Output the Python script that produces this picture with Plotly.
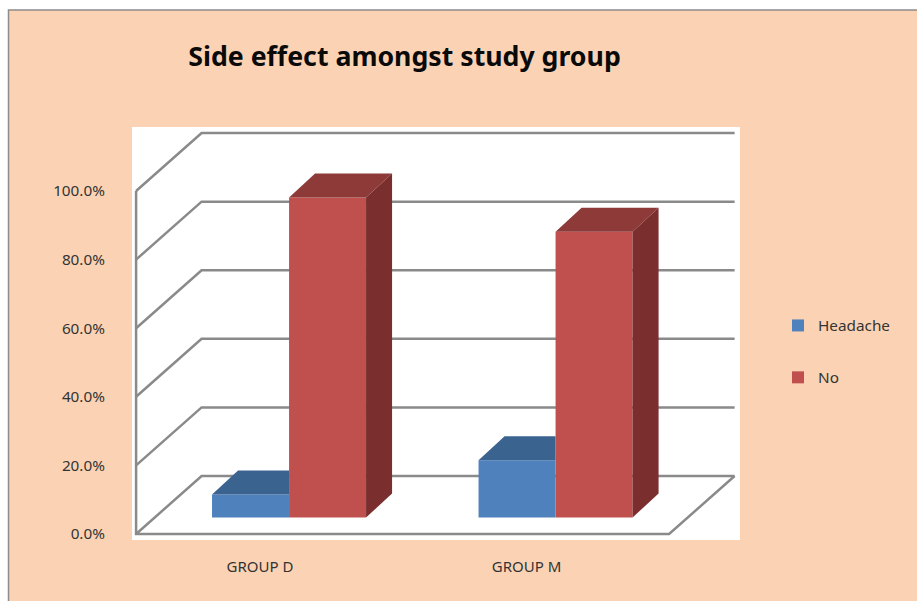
import plotly.graph_objects as go

# Chart data (percent of each study group)
groups = ["GROUP D", "GROUP M"]
headache = [6.7, 16.7]
no_effect = [93.3, 83.3]
percent_ticks = [0, 20, 40, 60, 80, 100]
percent_labels = ["0.0%", "20.0%", "40.0%", "60.0%", "80.0%", "100.0%"]

W, H = 917, 601
PEACH = "#FBD3B4"
GRID = "#8A8A8A"
FONT = "Noto Sans"

# Axis extents: one x unit is a category, one y unit is a percentage point
X_RANGE = [-0.4803, 1.801]
Y_RANGE = [-1.75, 118.66]

# Pseudo-3D geometry in axis units
FLOOR_L, FLOOR_R = -0.465, 1.535
WALL_DX, WALL_DY = 0.2458, 16.9
BASE_Y = 4.8
BAR_W = 0.2889
OFF_HEAD, OFF_NO = -0.18, 0.109
DEPTH_DX, DEPTH_DY = 0.0976, 7.0

xs = list(range(len(groups)))
fig = go.Figure()

# Front faces of the columns
fig.add_bar(x=xs, y=headache, base=BASE_Y, width=BAR_W, offset=OFF_HEAD,
            name="Headache", marker=dict(color="#4F81BD", line_width=0),
            legendgroup="a")
fig.add_bar(x=xs, y=no_effect, base=BASE_Y, width=BAR_W, offset=OFF_NO,
            name="No", marker=dict(color="#C0504D", line_width=0),
            legendgroup="b")


def face(px, py, color):
    fig.add_scatter(x=px, y=py, fill="toself", fillcolor=color, mode="none",
                    showlegend=False, hoverinfo="skip")


# Top and side faces derived from the same values
for i, (h, n) in enumerate(zip(headache, no_effect)):
    x0 = i + OFF_HEAD
    x1 = x0 + BAR_W
    top = BASE_Y + h
    # The red column hides the right end of the blue top face
    face([x0, x1, x1, x0 + DEPTH_DX, x0],
         [top, top, top + DEPTH_DY, top + DEPTH_DY, top], "#3B6390")

    x0 = i + OFF_NO
    x1 = x0 + BAR_W
    top = BASE_Y + n
    face([x0, x1, x1 + DEPTH_DX, x0 + DEPTH_DX, x0],
         [top, top, top + DEPTH_DY, top + DEPTH_DY, top], "#8E3A38")
    face([x1, x1 + DEPTH_DX, x1 + DEPTH_DX, x1, x1],
         [BASE_Y, BASE_Y + DEPTH_DY, top + DEPTH_DY, top, BASE_Y], "#7A2E2D")

# Wall and floor lines sit underneath the columns
wall_x = FLOOR_L + WALL_DX
wall_r = FLOOR_R + WALL_DX
paths = [f"M {FLOOR_L},{percent_ticks[-1]} L {FLOOR_L},0 L {FLOOR_R},0 L {wall_r},{WALL_DY}"]
for v in percent_ticks:
    paths.append(f"M {FLOOR_L},{v} L {wall_x},{v + WALL_DY} L {wall_r},{v + WALL_DY}")
shapes = [
    dict(type="rect", xref="paper", yref="paper", x0=8.5 / W, x1=1.01,
         y0=-0.01, y1=1 - 10 / H, fillcolor=PEACH,
         line=dict(color="#8C8C8C", width=1.5), layer="below"),
    dict(type="rect", xref="x domain", yref="y domain", x0=0, x1=1, y0=0, y1=1,
         fillcolor="white", line_width=0, layer="below"),
]
shapes += [dict(type="path", xref="x", yref="y", path=p,
                line=dict(color=GRID, width=2.5), layer="below") for p in paths]

fig.update_layout(
    width=W, height=H, margin=dict(l=0, r=0, t=0, b=0),
    paper_bgcolor="white", plot_bgcolor="white", barmode="overlay",
    shapes=shapes,
    font=dict(family=FONT, color="#333333"),
    title=dict(text="<b>Side effect amongst study group</b>",
               x=404.5 / W, xanchor="center", xref="paper",
               y=1 - 57 / H, yanchor="middle", yref="paper",
               font=dict(family=FONT, size=26.7, color="#0A0A0A")),
    xaxis=dict(domain=[132 / W, 740 / W], range=X_RANGE, tickmode="array",
               tickvals=xs, ticktext=groups, showgrid=False, zeroline=False,
               automargin=False, ticks="outside", ticklen=13,
               tickcolor="rgba(0,0,0,0)", tickfont=dict(size=15)),
    yaxis=dict(domain=[1 - 540 / H, 1 - 127 / H], range=Y_RANGE, tickmode="array",
               tickvals=percent_ticks, ticktext=percent_labels, showgrid=False,
               zeroline=False, automargin=False, ticks="outside", ticklen=23,
               tickcolor="rgba(0,0,0,0)", tickfont=dict(size=15.3)),
    legend=dict(x=778 / W, xanchor="left", y=1 - 351.5 / H, yanchor="middle",
                tracegroupgap=29, bgcolor="rgba(0,0,0,0)",
                font=dict(size=15.3)),
    showlegend=True,
)

fig.write_html("out.html")
